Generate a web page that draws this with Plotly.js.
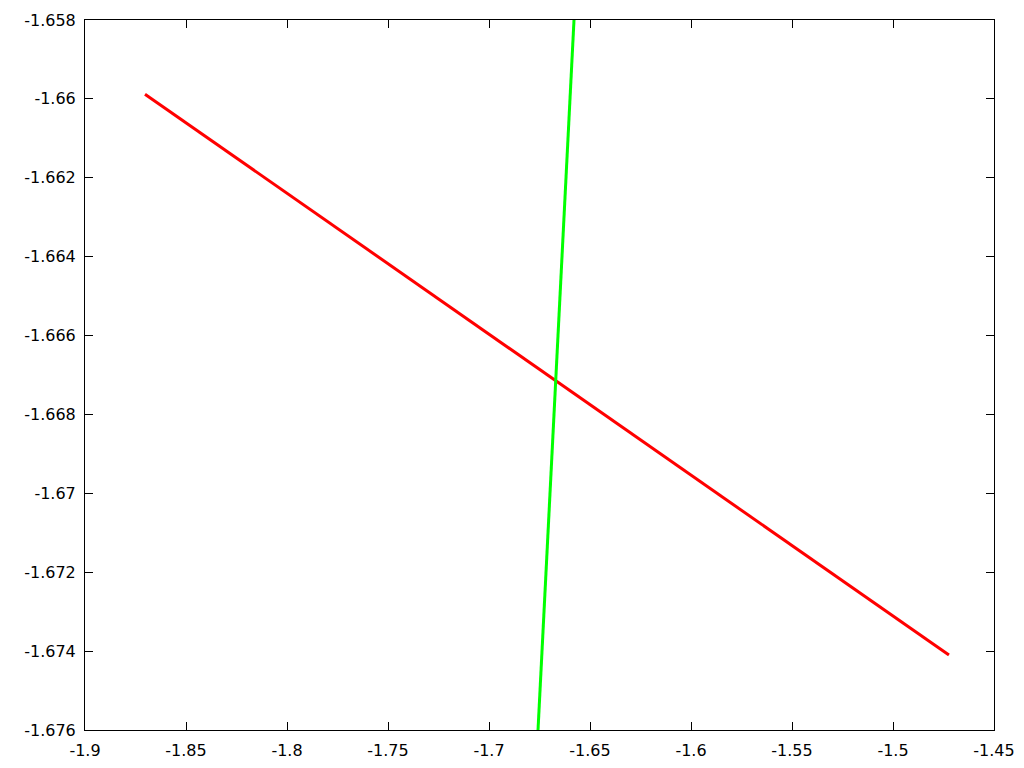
<!DOCTYPE html>
<html>
<head>
<meta charset="utf-8">
<script src="https://cdn.plot.ly/plotly-3.0.1.min.js"></script>
<style>
  html, body { margin: 0; padding: 0; background: #fff; }
  #chart { width: 1024px; height: 768px; }
</style>
</head>
<body>
<div id="chart"></div>
<script>
/* ─── data ─── */
const redX = [-1.8703, -1.4723];
const redY = [-1.65988, -1.67410];

const greenX = [-1.65792, -1.67574];
const greenY = [-1.658, -1.676];

const xTickVals = [-1.9, -1.85, -1.8, -1.75, -1.7, -1.65, -1.6, -1.55, -1.5, -1.45];
const xTickText = ['-1.9', '-1.85', '-1.8', '-1.75', '-1.7', '-1.65', '-1.6', '-1.55', '-1.5', '-1.45'];
const yTickVals = [-1.658, -1.66, -1.662, -1.664, -1.666, -1.668, -1.67, -1.672, -1.674, -1.676];
const yTickText = ['-1.658', '-1.66', '-1.662', '-1.664', '-1.666', '-1.668', '-1.67', '-1.672', '-1.674', '-1.676'];

const red = {
    x: redX,
    y: redY,
    type: 'scatter',
    mode: 'lines',
    line: { color: '#ff0000', width: 3 },
};

const green = {
    x: greenX,
    y: greenY,
    type: 'scatter',
    mode: 'lines',
    line: { color: '#00ff00', width: 3 },
};

// gnuplot-like frame: inward ticks mirrored on all four sides
const axisBase = {
    showgrid: false,
    zeroline: false,
    showline: true,
    linecolor: '#000',
    linewidth: 1,
    mirror: 'ticks',
    ticks: 'inside',
    ticklen: 8,
    tickcolor: '#000',
    tickwidth: 1,
    tickmode: 'array',
    tickfont: { family: 'DejaVu Sans', size: 16, color: '#000' },
};

const layout = {
    width: 1024,
    height: 768,
    margin: { l: 85, r: 30, t: 20, b: 38 },
    paper_bgcolor: '#fff',
    plot_bgcolor: '#fff',
    showlegend: false,
    xaxis: { ...axisBase, range: [-1.9, -1.45], tickvals: xTickVals, ticktext: xTickText, ticklabelstandoff: 6 },
    yaxis: { ...axisBase, range: [-1.676, -1.658], tickvals: yTickVals, ticktext: yTickText, ticklabelstandoff: 5 },
};

Plotly.newPlot('chart', [red, green], layout, { staticPlot: true, displayModeBar: false });
</script>
</body>
</html>
